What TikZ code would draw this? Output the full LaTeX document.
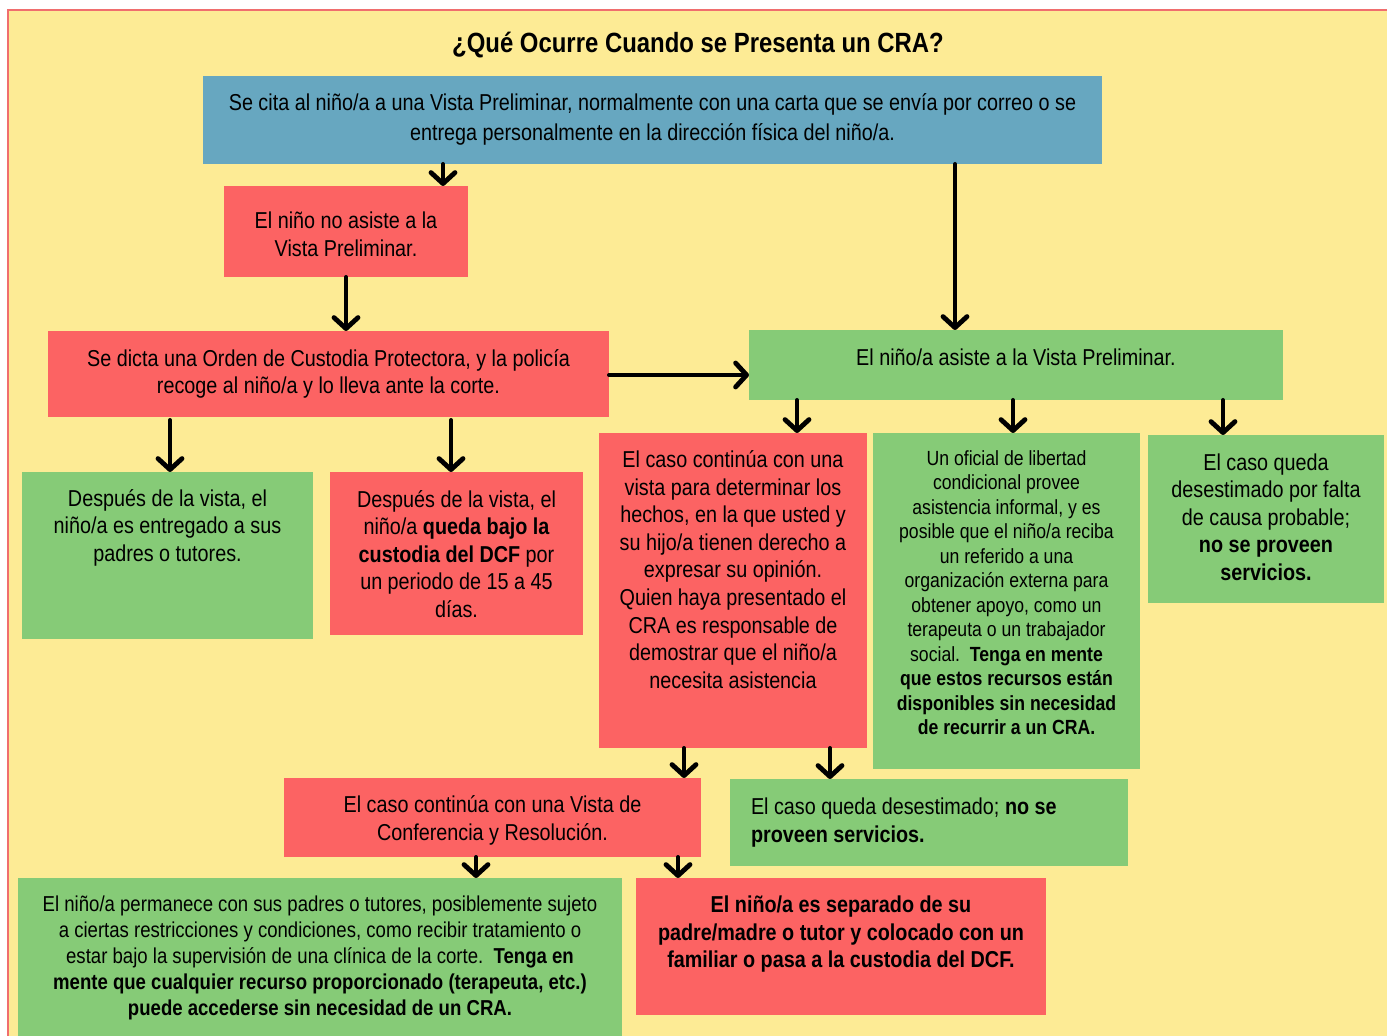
\documentclass[tikz,border=0pt]{standalone}
\usepackage{fontspec}
\setmainfont{Liberation Sans}[FakeStretch=0.86]
\usetikzlibrary{arrows.meta}
\definecolor{bgy}{RGB}{253,235,149}
\definecolor{rd}{RGB}{252,99,99}
\definecolor{gr}{RGB}{134,203,119}
\definecolor{bl}{RGB}{103,167,192}
\definecolor{framecol}{RGB}{240,110,110}
\newcommand\bx[9]{%
  \pgfmathsetmacro\bw{(#4-#2)*0.5}%
  \pgfmathsetmacro\bh{(#5-#3)*0.5}%
  \pgfmathsetmacro\bo{(#7+1.5)*0.5}%
  \node[fill=#6, inner sep=0pt, outer sep=0pt, anchor=north west] (#1) at (#2,#3)
   {\begin{minipage}[t][\bh pt][t]{\bw pt}#8\rule{0pt}{\bo pt}#9\par\vfill\end{minipage}};%
}
\newcommand\fc[1]{\centering\fontsize{11.5}{#1}\selectfont}
\tikzset{arr/.style={line width=2pt, line cap=round,
  -{Straight Barb[length=5.5pt,width=12pt,line width=2.4pt,line join=round,line cap=round]}}}
\begin{document}
\begin{tikzpicture}[x=0.5pt,y=-0.5pt]
\useasboundingbox (0,0) rectangle (1387,1036);
\fill[bgy] (8,10) rectangle (1387,1036);
\draw[framecol, line width=1pt] (8,1036) -- (8,10) -- (1387,10);
\node[font=\bfseries\fontsize{13.9}{16}\selectfont] (title) at (698,45) {¿Qué Ocurre Cuando se Presenta un CRA?};

\bx{blue}{203}{76}{1102}{164}{bl}{33}{\fc{15}}{Se cita al niño/a a una Vista Preliminar, normalmente con una carta que se envía por correo o se\\ entrega personalmente en la dirección física del niño/a.}
\bx{r2}{224}{186}{468}{277}{rd}{41}{\fc{14}}{El niño no asiste a la\\ Vista Preliminar.}
\bx{r3}{48}{331}{609}{417}{rd}{34}{\fc{13.5}}{Se dicta una Orden de Custodia Protectora, y la policía\\ recoge al niño/a y lo lleva ante la corte.}
\bx{g4}{749}{330}{1283}{400}{gr}{34}{\fc{14}}{El niño/a asiste a la Vista Preliminar.}
\bx{g5}{22}{472}{313}{639}{gr}{33}{\fc{13.75}}{Después de la vista, el\\ niño/a es entregado a sus\\ padres o tutores.}
\bx{r6}{330}{472}{583}{635}{rd}{34}{\fc{13.75}}{Después de la vista, el\\ niño/a \textbf{queda bajo la}\\ \textbf{custodia del DCF} por\\ un periodo de 15 a 45\\ días.}
\bx{r7}{599}{433}{867}{748}{rd}{33}{\fc{13.8}}{El caso continúa con una\\ vista para determinar los\\ hechos, en la que usted y\\ su hijo/a tienen derecho a\\ expresar su opinión.\\ Quien haya presentado el\\ CRA es responsable de\\ demostrar que el niño/a\\ necesita asistencia}
\bx{g8}{873}{433}{1140}{769}{gr}{31}{\centering\fontsize{10.25}{12.23}\selectfont}{Un oficial de libertad\\ condicional provee\\ asistencia informal, y es\\ posible que el niño/a reciba\\ un referido a una\\ organización externa para\\ obtener apoyo, como un\\ terapeuta o un trabajador\\ social.\ \ \textbf{Tenga en mente}\\ \textbf{que estos recursos están}\\ \textbf{disponibles sin necesidad}\\ \textbf{de recurrir a un CRA.}}
\bx{g9}{1148}{435}{1384}{603}{gr}{34}{\fc{13.75}}{El caso queda\\ desestimado por falta\\ de causa probable;\\ \textbf{no se proveen}\\ \textbf{servicios.}}
\bx{r10}{284}{778}{701}{857}{rd}{33}{\fc{14}}{El caso continúa con una Vista de\\ Conferencia y Resolución.}
\bx{g11}{730}{779}{1128}{866}{gr}{34}{\raggedright\leftskip=10.5pt\fontsize{11.5}{14}\selectfont}{El caso queda desestimado; \textbf{no se}\\ \textbf{proveen servicios.}}
\bx{g12}{18}{878}{622}{1036}{gr}{32}{\centering\fontsize{10.8}{13}\selectfont}{El niño/a permanece con sus padres o tutores, posiblemente sujeto\\ a ciertas restricciones y condiciones, como recibir tratamiento o\\ estar bajo la supervisión de una clínica de la corte.\ \ \textbf{Tenga en}\\ \textbf{mente que cualquier recurso proporcionado (terapeuta, etc.)}\\ \textbf{puede accederse sin necesidad de un CRA.}}
\bx{r13}{636}{878}{1046}{1015}{rd}{33}{\fc{13.75}\bfseries}{El niño/a es separado de su\\ padre/madre o tutor y colocado con un\\ familiar o pasa a la custodia del DCF.}

\draw[arr] (blue.south -| 443,0) -- (r2.north -| 443,0);
\draw[arr] (blue.south -| 955,0) -- (g4.north -| 955,0);
\draw[arr] (r2.south -| 346,0) -- (r3.north -| 346,0);
\draw[arr] (r3.east |- 0,375) -- (g4.west |- 0,375);
\draw[arr] (r3.south -| 170,0) ++(0,3) -- (g5.north -| 170,0);
\draw[arr] (r3.south -| 451,0) ++(0,3) -- (r6.north -| 451,0);
\draw[arr] (g4.south -| 797,0) -- (r7.north -| 797,0);
\draw[arr] (g4.south -| 1013,0) -- (g8.north -| 1013,0);
\draw[arr] (g4.south -| 1223,0) -- (g9.north -| 1223,0);
\draw[arr] (r7.south -| 684,0) -- (r10.north -| 684,0);
\draw[arr] (r7.south -| 830,0) -- (g11.north -| 830,0);
\draw[arr] (r10.south -| 476,0) -- (g12.north -| 476,0);
\draw[arr] (r10.south -| 678,0) -- (r13.north -| 678,0);
\end{tikzpicture}
\end{document}
